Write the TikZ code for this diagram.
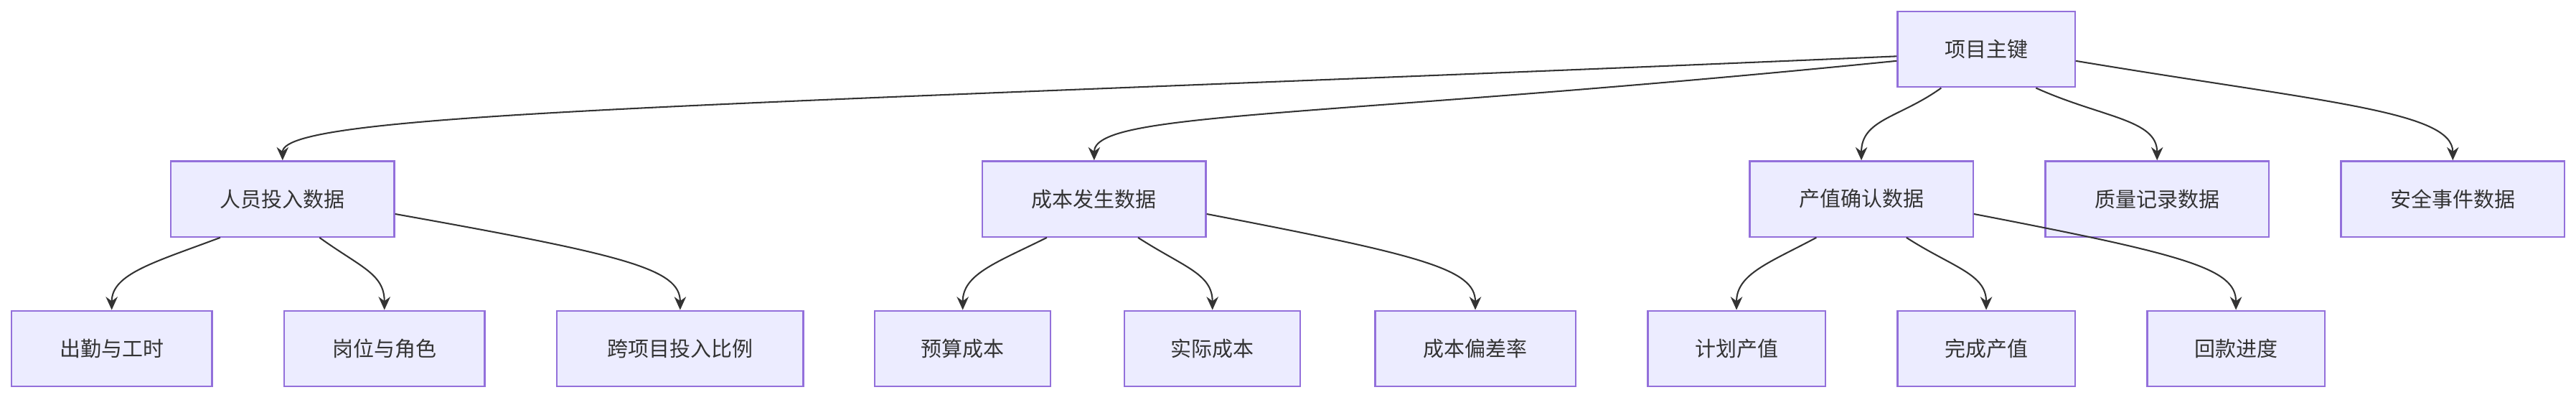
\documentclass[tikz,border=0pt]{standalone}
\usepackage{fontspec}
\newfontfamily\cjk{Noto Sans CJK SC}
\usetikzlibrary{arrows.meta}
\definecolor{boxfill}{HTML}{ECECFF}
\definecolor{boxline}{HTML}{9370DB}
\definecolor{edgecol}{HTML}{333333}
\begin{document}
\begin{tikzpicture}[x=0.5mm, y=0.5mm,
  box/.style={draw=boxline, fill=boxfill, line width=0.5mm, minimum height=23mm, inner sep=0pt, font=\cjk\fontsize{18}{20}\selectfont, text=edgecol},
  link/.style={draw=edgecol, line width=0.45mm, -{Stealth[length=4mm,width=3.6mm]}}]
\useasboundingbox (0,0) rectangle (1568,-243);

% top level
\node[box, minimum width=54mm] (key) at (1209,-30) {项目主键};
% second level
\node[box, minimum width=68mm] (staff) at (172,-121) {人员投入数据};
\node[box, minimum width=68mm] (cost) at (666,-121) {成本发生数据};
\node[box, minimum width=68mm] (value) at (1133,-121) {产值确认数据};
\node[box, minimum width=68mm] (quality) at (1313,-121) {质量记录数据};
\node[box, minimum width=68mm] (safety) at (1493,-121) {安全事件数据};
% leaves
\node[box, minimum width=61mm] (attend) at (68,-212) {出勤与工时};
\node[box, minimum width=61mm] (role) at (234,-212) {岗位与角色};
\node[box, minimum width=75mm] (ratio) at (414,-212) {跨项目投入比例};
\node[box, minimum width=53.5mm] (budget) at (586,-212) {预算成本};
\node[box, minimum width=53.5mm] (actual) at (738,-212) {实际成本};
\node[box, minimum width=61mm] (dev) at (898,-212) {成本偏差率};
\node[box, minimum width=54mm] (plan) at (1057,-212) {计划产值};
\node[box, minimum width=54mm] (done) at (1209,-212) {完成产值};
\node[box, minimum width=54mm] (pay) at (1361,-212) {回款进度};

% edges from key
\draw[link] ([yshift=-6]key.west) .. controls +(-700,-30) and +(0,30) .. (staff.north);
\draw[link] ([yshift=-10]key.west) .. controls +(-350,-35) and +(0,30) .. (cost.north);
\draw[link] ([xshift=-39]key.south) .. controls +(-25,-18) and +(0,25) .. (value.north);
\draw[link] ([xshift=43]key.south) .. controls +(40,-18) and +(0,25) .. (quality.north);
\draw[link] ([yshift=-10]key.east) .. controls +(150,-25) and +(0,30) .. (safety.north);

% edges to leaves
\draw[link] ([xshift=-54]staff.south) .. controls +(-40,-15) and +(0,22) .. (attend.north);
\draw[link] ([xshift=32]staff.south) .. controls +(25,-18) and +(0,22) .. (role.north);
\draw[link] ([yshift=-13]staff.east) .. controls +(140,-25) and +(0,25) .. (ratio.north);
\draw[link] ([xshift=-41]cost.south) .. controls +(-30,-15) and +(0,22) .. (budget.north);
\draw[link] ([xshift=38]cost.south) .. controls +(28,-18) and +(0,22) .. (actual.north);
\draw[link] ([yshift=-13]cost.east) .. controls +(130,-25) and +(0,25) .. (dev.north);
\draw[link] ([xshift=-39]value.south) .. controls +(-28,-15) and +(0,22) .. (plan.north);
\draw[link] ([xshift=39]value.south) .. controls +(28,-18) and +(0,22) .. (done.north);
\draw[link] ([yshift=-13]value.east) .. controls +(130,-25) and +(0,25) .. (pay.north);
\end{tikzpicture}
\end{document}
